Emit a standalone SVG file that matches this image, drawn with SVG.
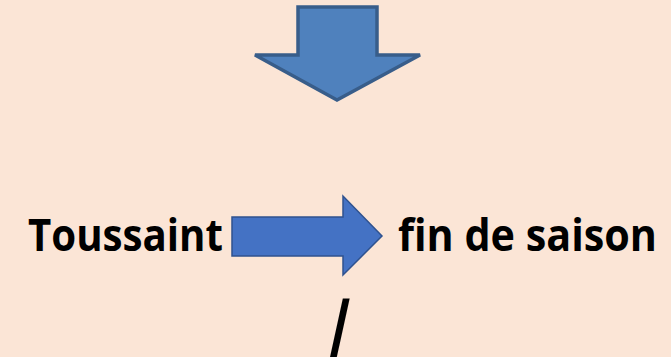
<svg xmlns="http://www.w3.org/2000/svg" width="671" height="357" viewBox="0 0 671 357">
<style>
.t{font-family:"Open Sans","Liberation Sans",sans-serif;font-weight:bold;font-size:44px;fill:#000}
</style>
<rect width="671" height="357" fill="#FBE5D6"/>
<g id="connectors">
<polygon id="down-arrow" points="298,7 377,7 377,55 420,55 337,100 255,55 298,55" fill="#4F81BD" stroke="#385D8A" stroke-width="3.5" stroke-linejoin="miter"/>
<polygon id="right-arrow" points="232,217 343,217 343,196 382,236 343,275 343,256 232,256" fill="#4472C4" stroke="#2F528F" stroke-width="1.5"/>
</g>
<g id="node-toussaint"><text class="t" x="28" y="251" textLength="195" lengthAdjust="spacingAndGlyphs">Toussaint</text></g>
<g id="node-fin"><text class="t" x="398" y="251" textLength="259" lengthAdjust="spacingAndGlyphs">fin de saison</text></g>
<g id="node-slash"><text class="t" transform="translate(329,360) scale(1.15,1.95)" x="0" y="0">/</text></g>
</svg>
